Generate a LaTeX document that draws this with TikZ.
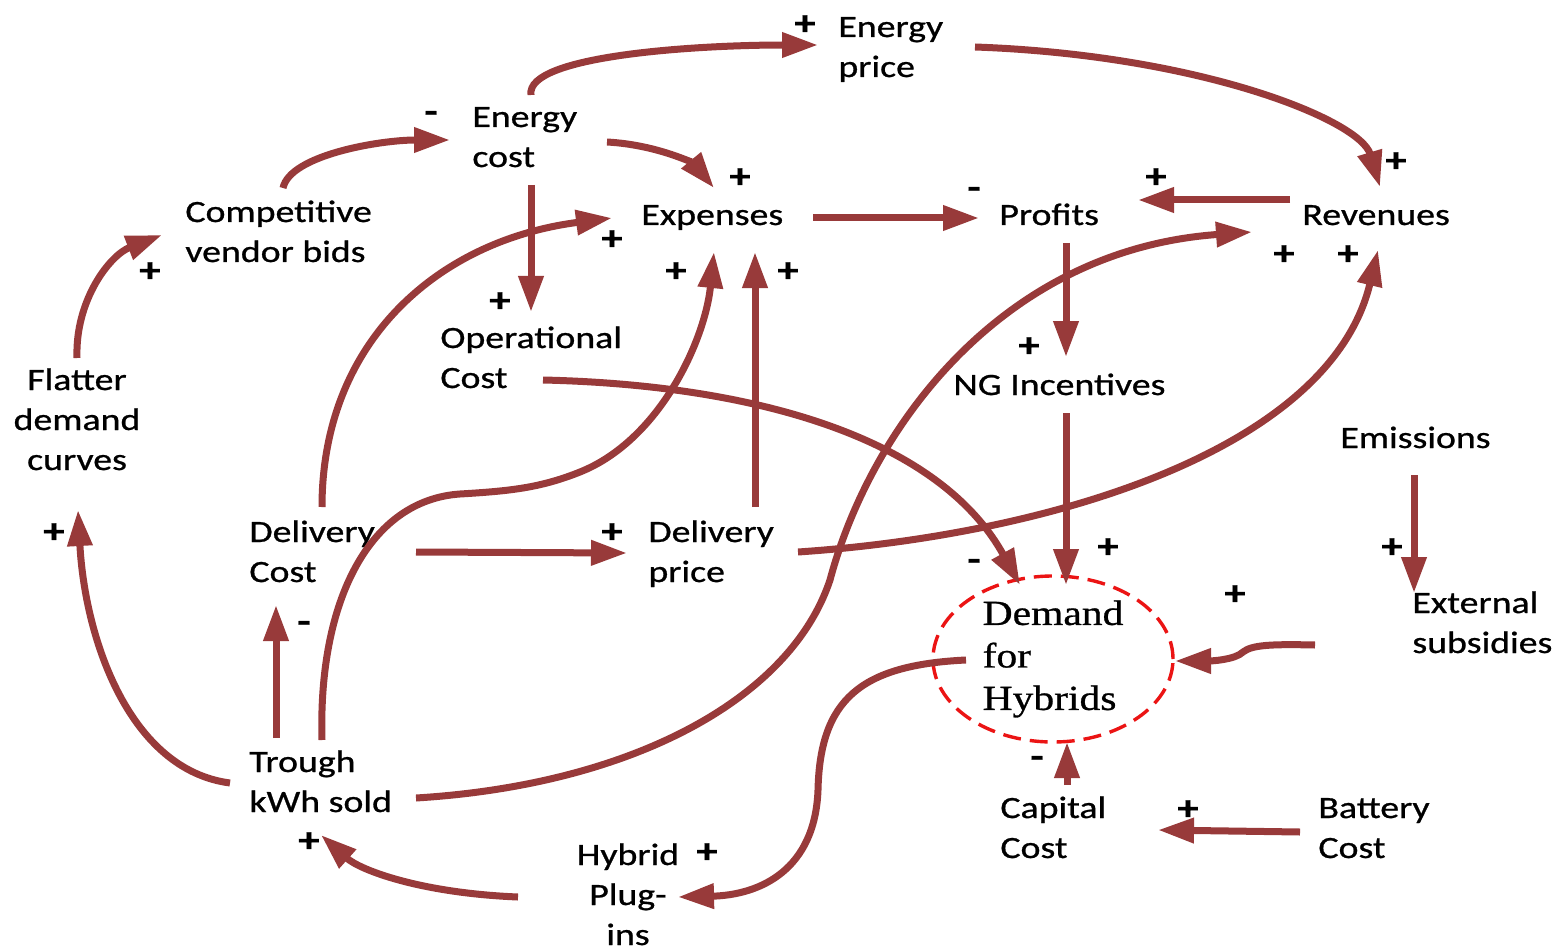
\documentclass[tikz,border=0pt]{standalone}
\usepackage{fontspec}
\setmainfont{Carlito}[FakeStretch=1.22,FakeBold=0.8]
\newfontfamily\tnr{Liberation Serif}[FakeStretch=1.18,FakeBold=0.8]
\usetikzlibrary{arrows.meta,shapes.geometric}
\definecolor{arrc}{RGB}{152,58,58}
\definecolor{ellc}{RGB}{235,20,20}
\begin{document}
\begin{tikzpicture}[x=0.5pt,y=-0.5pt,
  lbl/.style={inner sep=0pt, anchor=base west, align=left, font=\fontsize{15.5}{20}\selectfont},
  clbl/.style={lbl, anchor=base, align=center},
  sgn/.style={inner sep=0pt, font=\fontsize{17.5}{20}\selectfont\bfseries},
  arr/.style={draw=arrc, line width=3.5pt, -{Triangle[length=18pt,width=12pt]}},
  dem/.style={ellipse, draw=ellc, line width=1.7pt, dash pattern=on 9pt off 4.5pt,
     minimum width=120pt, minimum height=83pt, inner sep=0pt, align=left,
     font=\tnr\fontsize{17.6}{21.25}\selectfont}
]
\useasboundingbox (0,0) rectangle (1568,952);

% nodes (anchored at the baseline of their last line)
\node[lbl] (eprice) at (838,77) {Energy\\price};
\node[lbl] (ecost) at (472,167) {Energy\\cost};
\node[lbl] (comp) at (185,262) {Competitive\\vendor bids};
\node[lbl] (exp) at (641,225) {Expenses};
\node[lbl] (prof) at (999,225) {Profits};
\node[lbl] (rev) at (1302,225) {Revenues};
\node[lbl] (opc) at (440,388) {Operational\\Cost};
\node[lbl] (ng) at (953,395) {NG Incentives};
\node[clbl] (flat) at (77,470) {Flatter\\demand\\curves};
\node[lbl] (emis) at (1340,448) {Emissions};
\node[lbl] (dcost) at (249,582) {Delivery\\Cost};
\node[lbl] (dprice) at (648,582) {Delivery\\price};
\node[dem] (dem) at (1053,659) {Demand\\for\\Hybrids};
\node[lbl] (ext) at (1412,653) {External\\subsidies};
\node[lbl] (trough) at (249,812) {Trough\\kWh sold};
\node[lbl] (cap) at (1000,858) {Capital\\Cost};
\node[lbl] (bat) at (1318,858) {Battery\\Cost};
\node[clbl] (hyb) at (628,945) {Hybrid\\Plug-\\ins};

% connectors
\draw[arr] ([shift={(59,-72)}]ecost.base west) .. controls (525,55) and (700,45) .. ([shift={(-20,-32)}]eprice.base west);
\draw[arr] ([shift={(137,-30)}]eprice.base west) .. controls (1200,55) and (1360,120) .. ([shift={(78,-38)}]rev.base west);
\draw[arr] ([shift={(98,-74)}]comp.base west) .. controls (290,155) and (380,140) .. ([shift={(-22,-27)}]ecost.base west);
\draw[arr] ([shift={(135,-25)}]ecost.base west) .. controls (660,145) and (695,165) .. ([shift={(73,-37)}]exp.base west);
\draw[arr] ([shift={(59,18)}]ecost.base west) -- ([shift={(91,-76)}]opc.base west);
\draw[arr] ([shift={(172,-7)}]exp.base west) -- ([shift={(-20,-7)}]prof.base west);
\draw[arr] ([shift={(-12,-25)}]rev.base west) -- ([shift={(139,-25)}]prof.base west);
\draw[arr] ([shift={(67,18)}]prof.base west) -- ([shift={(113,-38)}]ng.base west);
\draw[arr] ([shift={(113,18)}]ng.base west) -- ([shift={(13,-74)}]dem.center);
\draw[arr] ([shift={(0,-112)}]flat.base) .. controls (75,300) and (110,255) .. ([shift={(-23,-27)}]comp.base west);
\draw[arr] ([shift={(-19,-29)}]trough.base west) .. controls (130,770) and (85,640) .. ([shift={(1,40)}]flat.base);
\draw[arr] ([shift={(27,-74)}]trough.base west) -- ([shift={(27,23)}]dcost.base west);
\draw[arr] ([shift={(73,-75)}]dcost.base west) .. controls (322,340) and (440,240) .. ([shift={(-29,-7)}]exp.base west);
\draw[arr] ([shift={(73,-72)}]trough.base west) .. controls (318,600) and (370,500) .. (460,494) .. controls (510,491) and (540,488) .. (580,472) .. controls (660,440) and (705,340) .. ([shift={(73,27)}]exp.base west);
\draw[arr] ([shift={(107,-75)}]dprice.base west) -- ([shift={(114,27)}]exp.base west);
\draw[arr] ([shift={(167,-30)}]dcost.base west) -- ([shift={(-21,-29)}]dprice.base west);
\draw[arr] ([shift={(150,-30)}]dprice.base west) .. controls (1050,535) and (1330,450) .. ([shift={(76,25)}]rev.base west);
\draw[arr] ([shift={(167,-14)}]trough.base west) .. controls (630,785) and (790,700) .. (830,580) .. controls (870,430) and (1000,250) .. ([shift={(-50,7)}]rev.base west);
\draw[arr] ([shift={(103,-8)}]opc.base west) .. controls (760,385) and (940,440) .. ([shift={(-33,-74)}]dem.center);
\draw[arr] ([shift={(-87,1)}]dem.center) .. controls (860,665) and (820,700) .. (818,790) .. controls (815,870) and (760,895) .. ([shift={(50,-48)}]hyb.base);
\draw[arr] ([shift={(-110,-48)}]hyb.base) .. controls (420,893) and (360,870) .. ([shift={(72,23)}]trough.base west);
\draw[arr] ([shift={(-97,-8)}]ext.base west) .. controls (1270,644) and (1252,645) .. (1243,652) .. controls (1235,660) and (1210,661) .. ([shift={(122,2)}]dem.center);
\draw[arr] ([shift={(74,27)}]emis.base west) -- ([shift={(2,-60)}]ext.base west);
\draw[arr] ([shift={(67,-73)}]cap.base west) -- ([shift={(14,83)}]dem.center);
\draw[arr] ([shift={(-18,-26)}]bat.base west) -- ([shift={(158,-28)}]cap.base west);

% polarity signs
\node[sgn] (s1) at (805,25) {+};
\node[sgn] (s2) at (431,117) {-};
\node[sgn] (s3) at (740,178) {+};
\node[sgn] (s4) at (612,240) {+};
\node[sgn] (s5) at (676,272) {+};
\node[sgn] (s6) at (788,272) {+};
\node[sgn] (s7) at (150,272) {+};
\node[sgn] (s8) at (500,302) {+};
\node[sgn] (s9) at (974,193) {-};
\node[sgn] (s10) at (1156,178) {+};
\node[sgn] (s11) at (1396,162) {+};
\node[sgn] (s12) at (1284,255) {+};
\node[sgn] (s13) at (1348,255) {+};
\node[sgn] (s14) at (1029,347) {+};
\node[sgn] (s15) at (54,533) {+};
\node[sgn] (s16) at (304,627) {-};
\node[sgn] (s17) at (612,533) {+};
\node[sgn] (s18) at (309,842) {+};
\node[sgn] (s19) at (707,853) {+};
\node[sgn] (s20) at (974,565) {-};
\node[sgn] (s21) at (1108,548) {+};
\node[sgn] (s22) at (1392,548) {+};
\node[sgn] (s23) at (1235,595) {+};
\node[sgn] (s24) at (1037,762) {-};
\node[sgn] (s25) at (1188,810) {+};
\end{tikzpicture}
\end{document}
